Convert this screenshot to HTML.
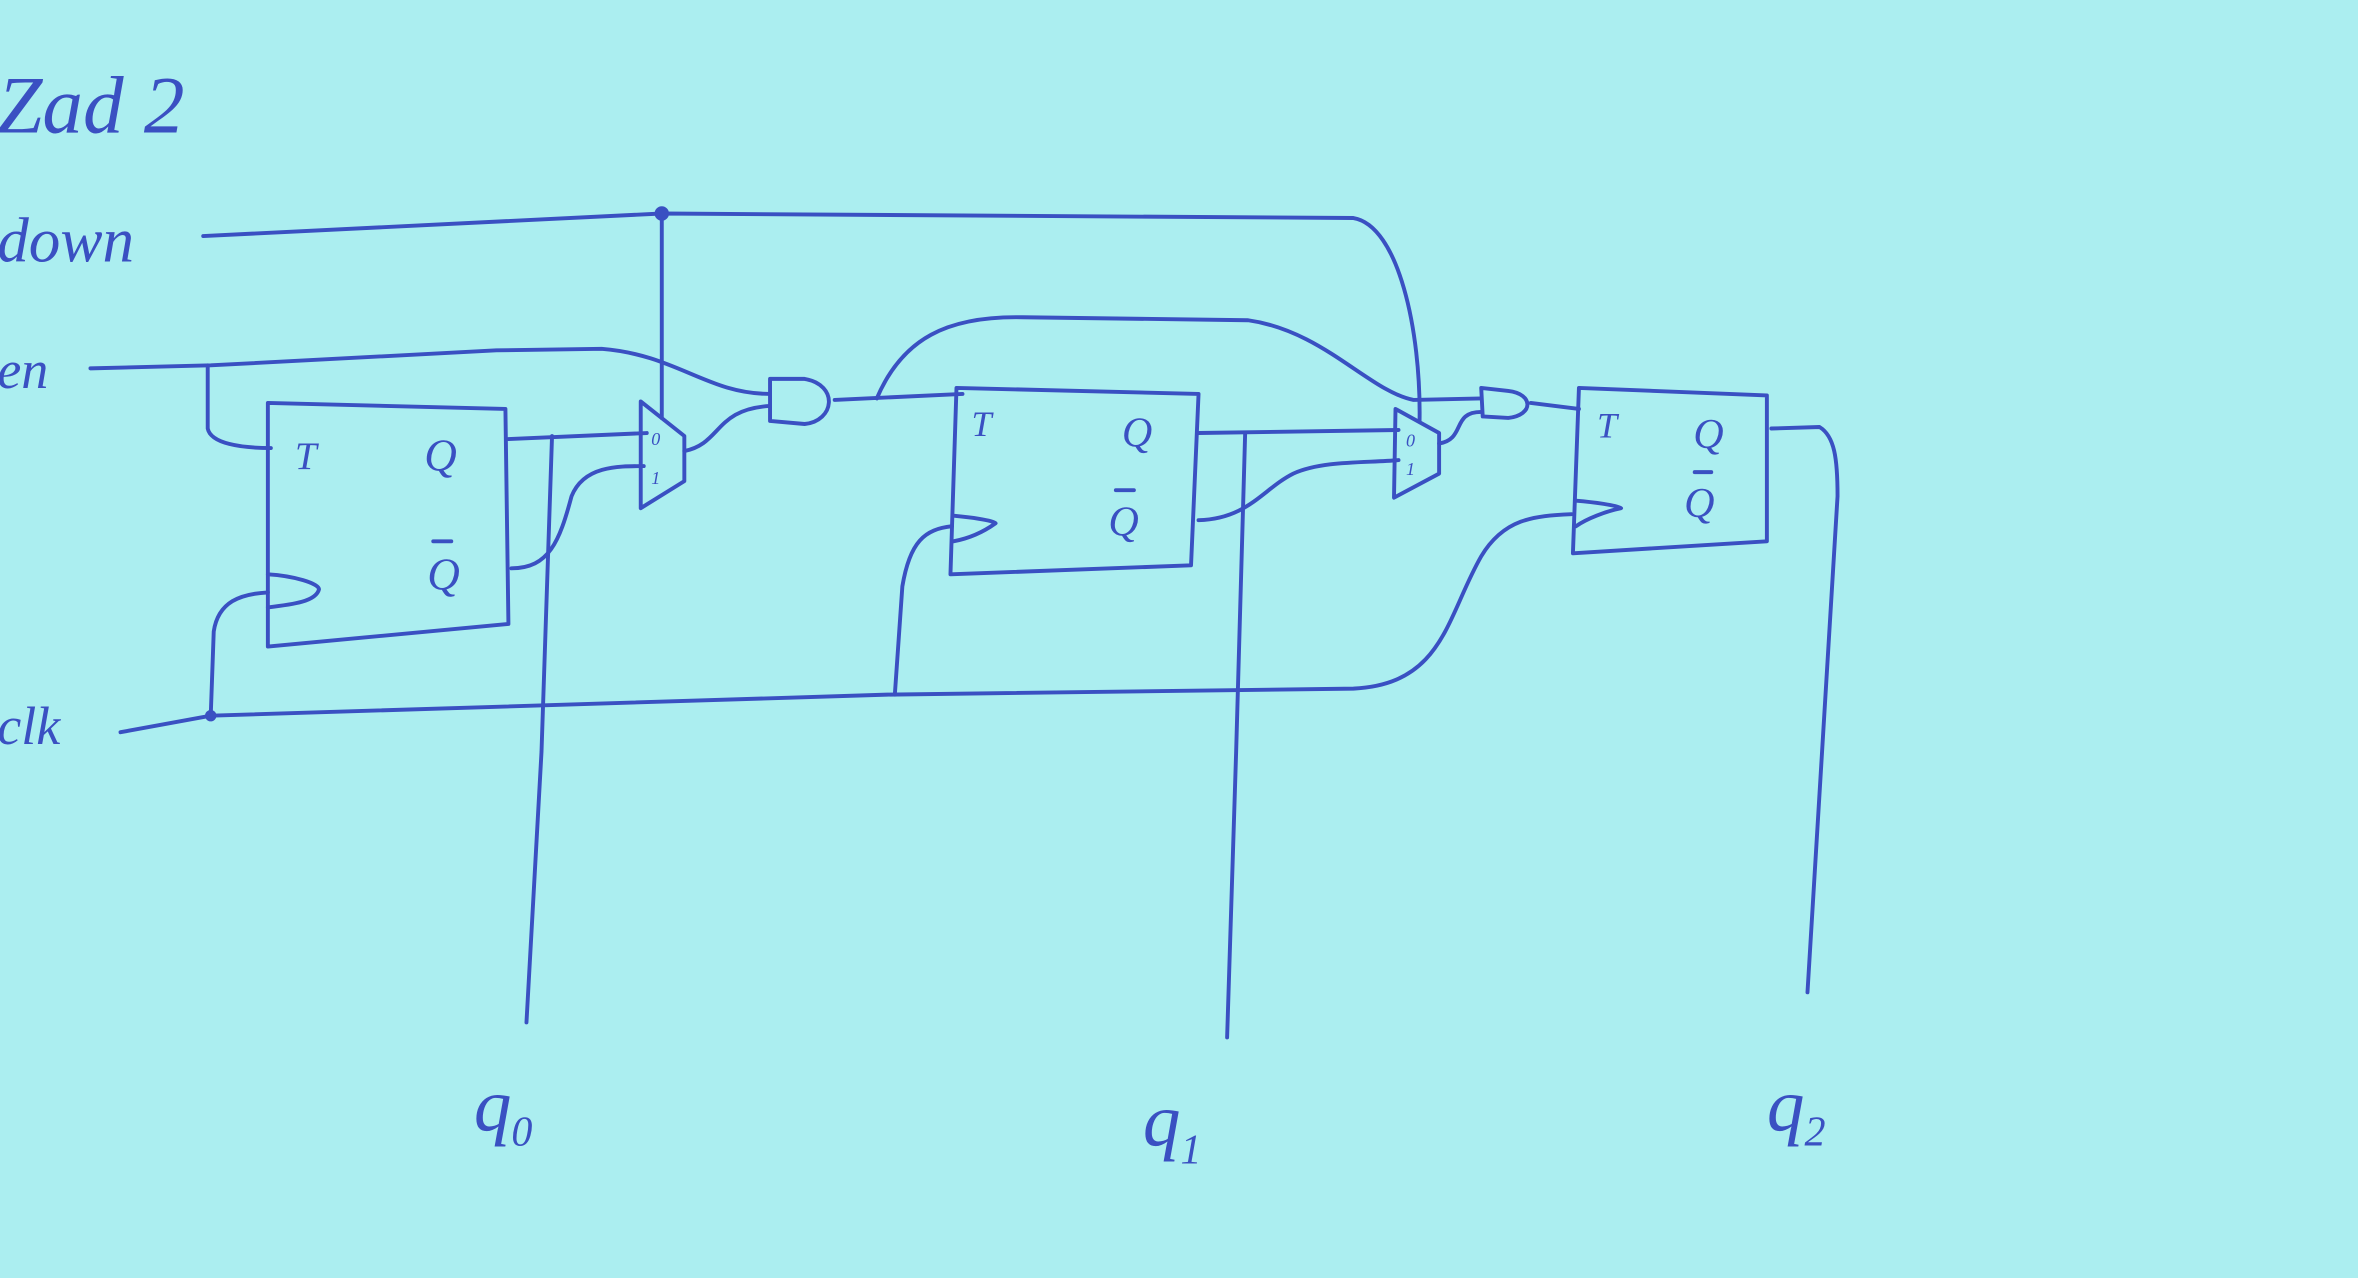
<!DOCTYPE html>
<html><head><meta charset="utf-8"><style>
html,body{margin:0;padding:0;background:#abeef0;}
svg{display:block}
text{font-family:"Liberation Serif",serif;font-style:italic;fill:#3a50c2}
</style></head><body>
<svg width="2358" height="1278" viewBox="0 0 1568 850" xmlns="http://www.w3.org/2000/svg">
<rect width="1568" height="850" fill="#abeef0"/>
<g fill="none" stroke="#3a50c2" stroke-width="2.6" stroke-linecap="round" stroke-linejoin="round">
<!-- title -->
<text x="-2" y="88" font-size="54" stroke="none">Zad 2</text>
<text x="-2" y="174" font-size="42" stroke="none">down</text>
<text x="-2" y="258" font-size="36" stroke="none">en</text>
<text x="-2" y="495" font-size="36" stroke="none">clk</text>
<!-- down wire -->
<path d="M135 157 L440 142 L900 145 C930 150 945 220 944 280"/>
<circle cx="440" cy="142" r="3.5" fill="#3a50c2"/>
<path d="M440 142 L440 278"/>
<!-- en wire -->
<path d="M60 245 L140 243 L330 233 L400 232 C450 236 470 262 512 262"/>
<path d="M138 243 L138 285 C140 295 160 298 180 298"/>
<!-- FF0 -->
<path d="M178 268 L178 430 L338 415 L336 272 Z"/>
<path d="M178 382 C195 383 212 388 212 392 C210 400 195 402 178 404"/>
<text x="196" y="312" font-size="26" stroke="none">T</text>
<text x="282" y="313" font-size="30" stroke="none">Q</text>
<text x="284" y="392" font-size="30" stroke="none">Q</text>
<path d="M288 360 L300 360"/>
<!-- Q0 -->
<path d="M338 292 L430 288"/>
<path d="M367 290 L360 500 L350 680"/>
<path d="M340 378 C365 378 372 360 380 330 C388 310 410 310 428 310"/>
<path d="M426 267 L455 290 L455 320 L426 338 Z"/>
<text x="433" y="296" font-size="12" stroke="none">0</text>
<text x="433" y="322" font-size="12" stroke="none">1</text>
<path d="M455 300 C480 295 475 272 512 270"/>
<path d="M512 252 L512 280 L535 282 C555 280 558 256 535 252 Z"/>
<!-- AND0 -> FF1 -->
<path d="M555 266 L640 262"/>
<path d="M583 265 C600 225 630 210 680 211 L830 213 C880 220 910 260 940 266 L985 265"/>
<!-- FF1 -->
<path d="M636 258 L632 382 L792 376 L797 262 Z"/>
<path d="M634 343 C645 344 660 346 662 348 C655 353 645 358 634 360"/>
<text x="646" y="290" font-size="24" stroke="none">T</text>
<text x="746" y="297" font-size="28" stroke="none">Q</text>
<text x="737" y="356" font-size="28" stroke="none">Q</text>
<path d="M742 326 L754 326"/>
<path d="M797 288 L930 286"/>
<path d="M828 288 L822 500 L816 690"/>
<path d="M797 346 C830 345 840 325 860 315 C880 306 910 308 930 306"/>
<path d="M928 272 L957 288 L957 315 L927 331 Z"/>
<text x="935" y="297" font-size="12" stroke="none">0</text>
<text x="935" y="316" font-size="12" stroke="none">1</text>
<path d="M957 295 C975 292 965 274 985 274"/>
<path d="M985 258 L986 277 L1003 278 C1020 276 1020 262 1003 260 Z"/>
<path d="M1018 268 L1050 272"/>
<!-- FF2 -->
<path d="M1050 258 L1046 368 L1175 360 L1175 263 Z"/>
<path d="M1048 333 C1060 334 1075 336 1078 338 C1068 340 1055 345 1048 350"/>
<text x="1062" y="291" font-size="24" stroke="none">T</text>
<text x="1126" y="298" font-size="28" stroke="none">Q</text>
<text x="1120" y="344" font-size="28" stroke="none">Q</text>
<path d="M1127 314 L1138 314"/>
<path d="M1178 285 L1210 284 C1220 290 1222 305 1222 330 L1202 660"/>
<!-- clk -->
<path d="M80 487 L140 476 L590 462 L900 458 C960 455 962 410 985 370 C1000 345 1020 343 1045 342"/>
<path d="M140 476 L142 420 C145 400 160 395 178 394"/>
<path d="M595 462 L600 390 C605 360 615 352 633 350"/>
<circle cx="140" cy="476" r="2.5" fill="#3a50c2"/>
<!-- output labels -->
<text x="315" y="752" font-size="50" stroke="none">q<tspan font-size="28" dy="10">0</tspan></text>
<text x="760" y="762" font-size="50" stroke="none">q<tspan font-size="28" dy="12">1</tspan></text>
<text x="1175" y="752" font-size="50" stroke="none">q<tspan font-size="28" dy="10">2</tspan></text>
</g>
</svg>
</body></html>
